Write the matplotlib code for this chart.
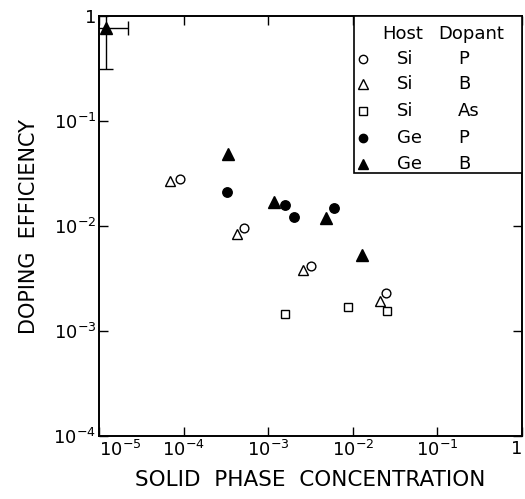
import matplotlib
matplotlib.use("Agg")
import matplotlib.pyplot as plt
from matplotlib.patches import Rectangle
from matplotlib.ticker import FixedLocator, FixedFormatter, NullLocator

# Si host
si_p_x = [9.0e-5, 5.2e-4, 3.2e-3, 2.45e-2]
si_p_y = [2.8e-2, 9.5e-3, 4.2e-3, 2.3e-3]
si_b_x = [6.9e-5, 4.3e-4, 2.6e-3, 2.1e-2]
si_b_y = [2.7e-2, 8.3e-3, 3.8e-3, 1.95e-3]
si_as_x = [1.6e-3, 8.8e-3, 2.55e-2]
si_as_y = [1.45e-3, 1.7e-3, 1.56e-3]

# Ge host
ge_p_x = [3.3e-4, 1.6e-3, 2.0e-3, 6.0e-3]
ge_p_y = [2.1e-2, 1.6e-2, 1.23e-2, 1.5e-2]
ge_b_x = [3.35e-4, 1.17e-3, 4.8e-3, 1.28e-2]
ge_b_y = [4.8e-2, 1.7e-2, 1.18e-2, 5.3e-3]

# Ge:B point with its error ranges
ge_b_err_x = [1.2e-5]
ge_b_err_y = [0.77]
ge_b_err_xrange = [5e-6, 2.2e-5]
ge_b_err_yrange = [0.31, 2.0]

x_ticks = [1e-5, 1e-4, 1e-3, 1e-2, 1e-1, 1]
x_labels = [r"$10^{-5}$", r"$10^{-4}$", r"$10^{-3}$", r"$10^{-2}$", r"$10^{-1}$", "1"]
y_ticks = [1e-4, 1e-3, 1e-2, 1e-1, 1]
y_labels = [r"$10^{-4}$", r"$10^{-3}$", r"$10^{-2}$", r"$10^{-1}$", "1"]

legend_rows = [
    ("o", "white", "Si", "P"),
    ("^", "white", "Si", "B"),
    ("s", "white", "Si", "As"),
    ("o", "black", "Ge", "P"),
    ("^", "black", "Ge", "B"),
]

plt.rcParams["font.family"] = ["DejaVu Sans"]
plt.rcParams["mathtext.fontset"] = "dejavusans"

W, H = 525, 499
fig = plt.figure(figsize=(W / 100, H / 100), dpi=100)
ax = fig.add_axes([99 / W, 1 - 436 / H, 423 / W, 420 / H])
ax.set_xscale("log")
ax.set_yscale("log")
ax.set_xlim(1e-5, 1)
ax.set_ylim(1e-4, 1)

lw = 1.0
style = dict(linestyle="none", markeredgecolor="black", markeredgewidth=lw)
ax.plot(si_p_x, si_p_y, marker="o", markersize=6.3, markerfacecolor="white", **style)
ax.plot(si_b_x, si_b_y, marker="^", markersize=7.8, markerfacecolor="white", **style)
ax.plot(si_as_x, si_as_y, marker="s", markersize=6.3, markerfacecolor="white", **style)
ax.plot(ge_p_x, ge_p_y, marker="o", markersize=6.8, markerfacecolor="black", **style)
ax.plot(ge_b_x, ge_b_y, marker="^", markersize=8.3, markerfacecolor="black", **style)

xerr = [[ge_b_err_x[0] - ge_b_err_xrange[0]], [ge_b_err_xrange[1] - ge_b_err_x[0]]]
yerr = [[ge_b_err_y[0] - ge_b_err_yrange[0]], [ge_b_err_yrange[1] - ge_b_err_y[0]]]
ax.errorbar(ge_b_err_x, ge_b_err_y, xerr=xerr, yerr=yerr, fmt="^", color="black",
            markersize=8.3, elinewidth=1.0, capsize=5, capthick=1.0)

ax.xaxis.set_major_locator(FixedLocator(x_ticks))
ax.xaxis.set_major_formatter(FixedFormatter(x_labels))
ax.yaxis.set_major_locator(FixedLocator(y_ticks))
ax.yaxis.set_major_formatter(FixedFormatter(y_labels))
ax.xaxis.set_minor_locator(NullLocator())
ax.yaxis.set_minor_locator(NullLocator())
ax.tick_params(which="major", direction="in", top=True, right=True,
               length=6.5, width=1.0, labelsize=13, pad=3)
ax.tick_params(axis="y", pad=2)
for s in ax.spines.values():
    s.set_linewidth(1.4)

# keep the corner labels clear of each other and of the figure edge
xt = ax.xaxis.get_major_ticks()
xt[0].label1.set_horizontalalignment("left")
xt[-1].label1.set_horizontalalignment("right")

ax.set_xlabel("SOLID  PHASE  CONCENTRATION", fontsize=15.5, labelpad=7)
ax.set_ylabel("DOPING  EFFICIENCY", fontsize=15, labelpad=10)

# key box in the upper right corner
ax.add_patch(Rectangle((0.603, 0.626), 0.397, 0.374, transform=ax.transAxes,
                       facecolor="white", edgecolor="black", linewidth=1.2, zorder=5))
tkw = dict(transform=ax.transAxes, fontsize=13, va="center", zorder=6)
ax.text(0.669, 0.958, "Host", ha="left", **tkw)
ax.text(0.801, 0.958, "Dopant", ha="left", **tkw)
row_y = [0.898, 0.838, 0.774, 0.710, 0.648]
for (mk, fc, host, dop), yy in zip(legend_rows, row_y):
    ax.plot([0.624], [yy], marker=mk, markersize=6 if mk != "^" else 7,
            markerfacecolor=fc, markeredgecolor="black", markeredgewidth=1.0,
            transform=ax.transAxes, zorder=6, clip_on=False)
    ax.text(0.704, yy, host, ha="left", **tkw)
    ax.text(0.849, yy, dop, ha="left", **tkw)

fig.savefig("out.png", dpi=100)
